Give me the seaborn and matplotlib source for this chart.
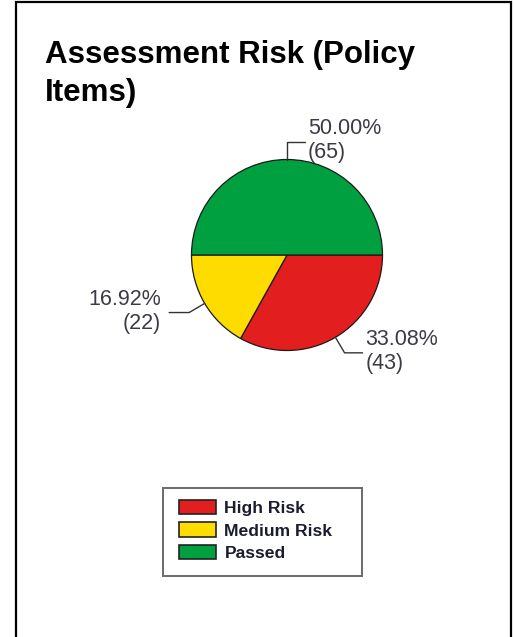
import numpy as np
import matplotlib
matplotlib.use("Agg")
import matplotlib.pyplot as plt
from matplotlib.patches import Rectangle, Patch
import seaborn as sns

# --- DATA ---
categories = ['High Risk', 'Medium Risk', 'Passed']
counts = [43, 22, 65]
percents = ['33.08%', '16.92%', '50.00%']
colors = ['#E31E1E', '#FFDC00', '#00A040']
title_lines = ['Assessment Risk (Policy', 'Items)']

sns.set_theme(style='white')
plt.rcParams['font.family'] = ['Liberation Sans', 'DejaVu Sans']

W, H = 514, 637
fig = plt.figure(figsize=(W / 100, H / 100), dpi=100)
fig.patch.set_facecolor('white')

# axes in pixel units (y up)
ax = fig.add_axes([0, 0, 1, 1])
ax.set_xlim(0, W)
ax.set_ylim(0, H)
ax.set_axis_off()

# outer panel border (open at the bottom)
ax.plot([16, 16, 511, 511], [-5, H - 2, H - 2, -5], color='black', lw=1.6,
        solid_joinstyle='miter')

# title
fig.text(45 / W, 1 - 63 / H, title_lines[0], fontsize=22.5, fontweight='bold',
         color='black', va='baseline', ha='left')
fig.text(45 / W, 1 - 101 / H, title_lines[1], fontsize=22.5, fontweight='bold',
         color='black', va='baseline', ha='left')

# pie
cx, cy, r = 287, H - 255, 95.5
wedges, _ = ax.pie(counts, colors=colors, startangle=0, counterclock=False,
                   center=(cx, cy), radius=r,
                   wedgeprops=dict(edgecolor='#1a1a1a', linewidth=0.9))
ax.set_aspect('equal')
ax.set_xlim(0, W)
ax.set_ylim(0, H)

# elbow leader lines + labels
lab_color = '#3b3b48'
for w, pct, n in zip(wedges, percents, counts):
    ang = np.deg2rad((w.theta1 + w.theta2) / 2)
    ux, uy = np.cos(ang), np.sin(ang)
    p0 = (cx + r * ux, cy + r * uy)
    p1 = (cx + (r + 18) * ux, cy + (r + 18) * uy)
    side = 1 if ux > -1e-6 else -1
    hlen = 18 if side > 0 else 20
    p2 = (p1[0] + side * hlen, p1[1])
    ax.plot([p0[0], p1[0], p2[0]], [p0[1], p1[1], p2[1]], color='#333333', lw=1.0)
    ax.text(p2[0] + side * (3 if side > 0 else 8), p2[1] + 1, f'{pct}\n({n})',
            ha='left' if side > 0 else 'right', va='center', fontsize=15.5,
            color=lab_color, linespacing=1.2,
            multialignment='left' if side > 0 else 'right')

# legend box
ax.add_patch(Rectangle((163, H - 576), 199, 88, facecolor='white',
                       edgecolor='#6a6a6a', lw=1.4))
handles = [Patch(facecolor=c, edgecolor='#222222', lw=1.2) for c in colors]
leg = ax.legend(handles, categories, loc='upper left',
                bbox_to_anchor=(179 / W, 1 - 500 / H), frameon=False,
                prop=dict(size=12.6, weight='bold'), handlelength=2.1,
                handleheight=0.88, handletextpad=0.5, labelspacing=0.36,
                borderpad=0, borderaxespad=0)
for t in leg.get_texts():
    t.set_color('#1c1c30')

fig.savefig('out.png', dpi=100)
